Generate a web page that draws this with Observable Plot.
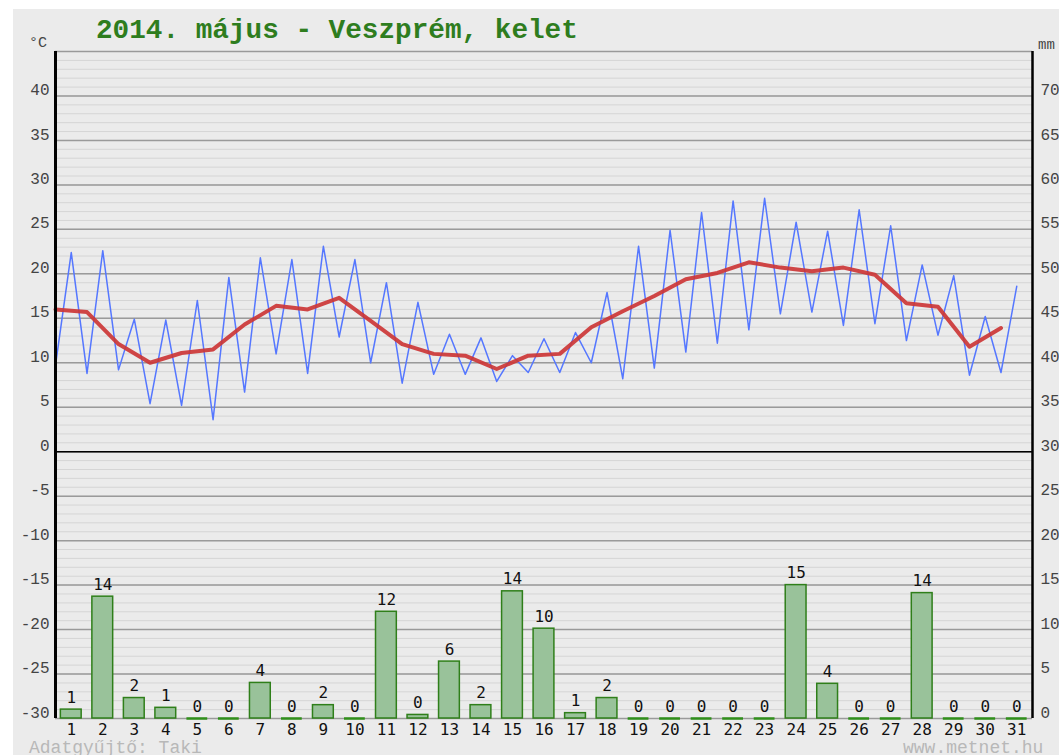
<!DOCTYPE html>
<html><head><meta charset="utf-8">
<script src="https://cdn.jsdelivr.net/npm/d3@7"></script>
<script src="https://cdn.jsdelivr.net/npm/@observablehq/plot@0.6"></script>
<style>
html,body{margin:0;padding:0;background:#fff;}
body{width:1059px;height:755px;position:relative;overflow:hidden;}
#panel{position:absolute;left:13px;top:9px;width:1046px;height:746px;background:#ebebeb;}
#chart{position:absolute;left:0;top:0;}
.lbl{position:absolute;white-space:nowrap;line-height:1;}
#title{left:96px;top:17px;font-family:"Liberation Mono",monospace;font-weight:bold;font-size:27.7px;color:#2e7d1e;}
#unitL{left:29px;top:36px;font-family:"Liberation Mono",monospace;font-size:15px;color:#444;}
#unitR{left:1038px;top:38px;font-family:"Liberation Mono",monospace;font-size:14px;color:#444;}
.foot{top:741px;font-family:"Liberation Mono",monospace;font-size:18px;line-height:14px;height:14px;color:#b8b8b8;}
#footL{left:29px;}
#footR{left:903px;}
</style>
</head><body>
<div id="panel"></div>
<div id="chart"></div>
<div class="lbl" id="title">2014. május - Veszprém, kelet</div>
<div class="lbl" id="unitL">°C</div>
<div class="lbl" id="unitR">mm</div>
<div class="lbl foot" id="footL">Adatgyűjtő: Taki</div>
<div class="lbl foot" id="footR">www.metnet.hu</div>
<script>
const days = [1,2,3,4,5,6,7,8,9,10,11,12,13,14,15,16,17,18,19,20,21,22,23,24,25,26,27,28,29,30,31];
const tMin = [9.7,8.8,9.2,5.4,5.2,3.6,6.7,11.0,8.8,12.9,10.0,7.7,8.7,8.7,7.9,8.9,8.9,10.0,8.2,9.4,11.2,12.2,13.7,15.5,15.7,14.2,14.4,12.5,13.1,8.6,8.9];
const tMax = [22.4,22.6,14.9,14.8,17.0,19.6,21.8,21.6,23.1,21.6,19.0,16.8,13.2,12.8,10.8,12.7,13.4,17.9,23.1,24.9,26.9,28.2,28.5,25.8,24.8,27.2,25.4,21.0,19.8,15.2,18.6];
const tAvg = [16.0,15.7,12.1,10.0,11.1,11.5,14.3,16.4,16.0,17.3,14.7,12.1,11.0,10.8,9.3,10.8,11.0,14.0,15.8,17.5,19.4,20.1,21.3,20.7,20.3,20.7,19.9,16.7,16.3,11.8,13.9];
const precip = [1.0,13.7,2.3,1.2,0,0,4.0,0,1.5,0,12.0,0.4,6.4,1.5,14.3,10.1,0.6,2.3,0,0,0,0,0,15.0,3.9,0,0,14.1,0,0,0];
const tempTicks = [-30,-25,-20,-15,-10,-5,0,5,10,15,20,25,30,35,40,45];
const tempLabels = [-30,-25,-20,-15,-10,-5,0,5,10,15,20,25,30,35,40];
const mmLabels = [0,5,10,15,20,25,30,35,40,45,50,55,60,65,70];
const mmOffset = 30; // mm axis: 0 mm sits at -30 °C

const rows = days.map((d,i)=>({day:d, tmin:tMin[i], tmax:tMax[i], tavg:tAvg[i], mm:precip[i]}));
const blue = rows.flatMap(r=>[{x:r.day-0.5, t:r.tmin},{x:r.day, t:r.tmax}]);
const minor = d3.range(-30, 46);
const mono = "DejaVu Sans Mono, monospace";

const plot = Plot.plot({
  width:1059, height:755,
  marginLeft:55, marginRight:27, marginTop:51, marginBottom:37,
  style:{background:"transparent", overflow:"visible"},
  x:{domain:[0.5,31.5], axis:null},
  y:{domain:[-30,45], axis:null},
  marks:[
    Plot.ruleY(minor, {stroke:"#d5d5d5", strokeWidth:1}),
    Plot.ruleY(tempTicks, {stroke:"#9a9a9a", strokeWidth:1.5}),
    Plot.ruleY([0], {stroke:"#000", strokeWidth:1.5}),
    Plot.rect(rows.filter(r=>r.mm>0), {x1:r=>r.day-0.33, x2:r=>r.day+0.33, y1:()=>-mmOffset, y2:r=>r.mm-mmOffset, fill:"#99c29a", stroke:"#2f7f1a", strokeWidth:1.5}),
    Plot.ruleY(rows.filter(r=>r.mm===0), {y:()=>-mmOffset, x1:r=>r.day-0.33, x2:r=>r.day+0.33, stroke:"#2f8f1a", strokeWidth:2.5}),
    Plot.text(rows, {x:"day", y:r=>r.mm-mmOffset, text:r=>String(Math.round(r.mm)), dy:-12, fontSize:16, fontFamily:mono, fill:"#111"}),
    Plot.text(rows, {x:"day", y:()=>-mmOffset, text:r=>String(r.day), dy:11, fontSize:16, fontFamily:mono, fill:"#111"}),
    Plot.line(blue, {x:"x", y:"t", stroke:"#5577ff", strokeWidth:1.5}),
    Plot.line(rows, {x:r=>r.day-0.5, y:"tavg", stroke:"#cc3636", strokeWidth:4, strokeOpacity:0.92}),
    Plot.ruleX([0.5], {stroke:"#000", strokeWidth:3}),
    Plot.ruleX([31.5], {stroke:"#000", strokeWidth:2.5}),
    Plot.text(tempLabels, {x:()=>0.5, y:d=>d, text:d=>String(d), textAnchor:"end", dx:-6, dy:-6, fontSize:16, fontFamily:"Liberation Mono, monospace", fill:"#444"}),
    Plot.text(mmLabels, {x:()=>31.5, y:d=>d-mmOffset, text:d=>String(d), textAnchor:"start", dx:8, dy:-6, fontSize:16, fontFamily:"Liberation Mono, monospace", fill:"#444"})
  ]
});
document.getElementById("chart").appendChild(plot);
</script>
</body></html>
